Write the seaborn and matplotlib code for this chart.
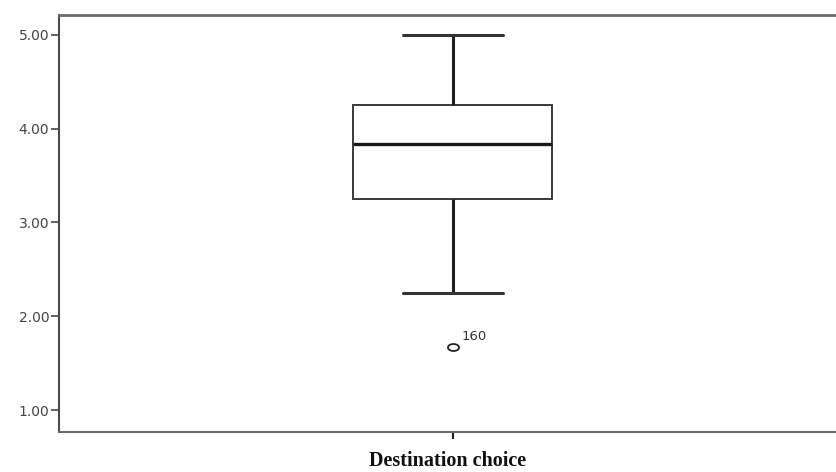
import numpy as np
import pandas as pd
import matplotlib
matplotlib.use("Agg")
import matplotlib.pyplot as plt
from matplotlib.path import Path
from matplotlib.transforms import Affine2D
import seaborn as sns

# Respondent scores (mean of item ratings) for destination choice
scores = [1.67, 2.25, 2.75, 3.25, 3.50, 3.67, 3.83, 4.00, 4.17, 4.25, 4.50, 4.75, 5.00]
case_ids = [160, 12, 45, 77, 3, 91, 28, 64, 110, 133, 58, 87, 21]
y_ticks = [1.0, 2.0, 3.0, 4.0, 5.0]
var_label = "Destination choice"

df = pd.DataFrame({var_label: scores, "case": case_ids})

sns.set_theme(style="white")
plt.rcParams["font.family"] = ["DejaVu Sans"]

fig = plt.figure(figsize=(8.37, 4.72), dpi=100)
ax = fig.add_axes([59 / 837, 1 - 432 / 472, (837 - 59) / 837, (432 - 15) / 472])

# flattened open circle used for outliers
oval = Path.unit_circle().transformed(Affine2D().scale(1.6, 1.0))

sns.boxplot(
    data=df, y=var_label, ax=ax, width=0.8, whis=1.5,
    color="white", linecolor="#222222", linewidth=1.6,
    boxprops=dict(edgecolor="#3a3a3a", linewidth=1.4),
    whiskerprops=dict(color="#1e1e1e", linewidth=2.2),
    capprops=dict(color="#333333", linewidth=2.2),
    medianprops=dict(color="#1a1a1a", linewidth=2.4),
    flierprops=dict(marker=oval, markersize=8, markerfacecolor="none",
                    markeredgecolor="#222222", markeredgewidth=1.3),
)

# label the outlying case with its case number
q1, q3 = np.percentile(scores, [25, 75])
iqr = q3 - q1
for val, cid in zip(scores, case_ids):
    if val < q1 - 1.5 * iqr or val > q3 + 1.5 * iqr:
        ax.annotate(str(cid), xy=(0, val), xytext=(6, 3), textcoords="offset points",
                    fontsize=9.5, family="DejaVu Sans", color="#333333",
                    ha="left", va="bottom")

ax.set_xlim(-1.584, 1.544)
ax.set_ylim(0.766, 5.21)
ax.set_yticks(y_ticks)
ax.set_yticklabels([f"{t:.2f}" for t in y_ticks], fontsize=10, family="DejaVu Sans",
                   color="#444444")
ax.set_xticks([0])
ax.set_xticklabels([""])
ax.set_ylabel("")
ax.set_xlabel(var_label, fontsize=14.5, fontweight="bold", family="Liberation Serif",
              color="#111111", labelpad=8)

ax.tick_params(axis="y", left=True, length=6, width=1.3, color="#555555", pad=1)
ax.tick_params(axis="x", bottom=True, length=5, width=1.6, color="#222222", pad=1)

ax.spines["right"].set_visible(False)
ax.spines["left"].set_color("#4a4a4a")
ax.spines["left"].set_linewidth(1.5)
ax.spines["top"].set_color("#6a6a6a")
ax.spines["top"].set_linewidth(2.0)
ax.spines["bottom"].set_color("#6a6a6a")
ax.spines["bottom"].set_linewidth(1.5)

fig.savefig("out.png", dpi=100)
